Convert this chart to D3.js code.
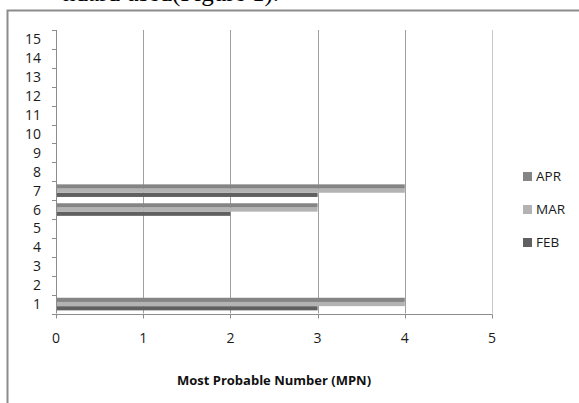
<!DOCTYPE html>
<html>
<head>
<meta charset="utf-8">
<script src="https://cdn.jsdelivr.net/npm/d3@7"></script>
<style>
  body { margin: 0; background: #fff; }
  svg { display: block; }
</style>
</head>
<body>
<svg id="chart"></svg>
<script>
// categories (sample numbers) and monthly MPN values
const categories = ["1","2","3","4","5","6","7","8","9","10","11","12","13","14","15"];
const febValues = [3, 0, 0, 0, 0, 2, 3, 0, 0, 0, 0, 0, 0, 0, 0];
const marValues = [4, 0, 0, 0, 0, 3, 4, 0, 0, 0, 0, 0, 0, 0, 0];
const aprValues = [4, 0, 0, 0, 0, 3, 4, 0, 0, 0, 0, 0, 0, 0, 0];
const seriesNames = ["FEB", "MAR", "APR"];
const xTicks = [0, 1, 2, 3, 4, 5];

const width = 579, height = 403;
const margin = {left: 56, right: 87, top: 30, bottom: 90};
const font = "'Open Sans', 'Noto Sans', sans-serif";

const series = [
  {name: "FEB", values: febValues, color: "#606060"},
  {name: "MAR", values: marValues, color: "#b3b3b3"},
  {name: "APR", values: aprValues, color: "#858585"}
];

const svg = d3.select("#chart")
  .attr("width", width)
  .attr("height", height);

// page text cut off above the chart frame (only descenders show)
svg.append("text")
  .attr("x", 279)
  .attr("y", 0.5)
  .attr("text-anchor", "end")
  .attr("font-family", "'Liberation Serif', serif")
  .attr("font-size", 25)
  .attr("fill", "#000")
  .text("ndard used(Figure 1).");

// chart frame (top and left edges visible)
svg.append("path")
  .attr("d", `M7.5,${height} V10.5 H${width}`)
  .attr("fill", "none")
  .attr("stroke", "#8c8c8c")
  .attr("stroke-width", 2);

const x = d3.scaleLinear()
  .domain([0, 5])
  .range([margin.left, 492]);

const y = d3.scaleBand()
  .domain(categories.slice().reverse())
  .range([margin.top, 313.5]);

// vertical gridlines
svg.append("g")
  .selectAll("line")
  .data(xTicks.slice(1))
  .join("line")
  .attr("x1", d => Math.round(x(d)) + 0.5)
  .attr("x2", d => Math.round(x(d)) + 0.5)
  .attr("y1", margin.top)
  .attr("y2", y.range()[1])
  .attr("stroke", d => d === 5 ? "#c8c8c8" : "#a0a0a0")
  .attr("stroke-width", 1);

// bars: FEB at bottom of each group, APR on top
const barH = y.bandwidth() / 4.5;
const inner = d3.scaleBand()
  .domain(["APR", "MAR", "FEB"])
  .range([(y.bandwidth() - 3 * barH) / 2, (y.bandwidth() + 3 * barH) / 2]);

const groups = svg.append("g")
  .selectAll("g")
  .data(series)
  .join("g")
  .attr("fill", d => d.color);

groups.selectAll("rect")
  .data(d => d.values.map((v, i) => ({cat: categories[i], v: v, name: d.name})))
  .join("rect")
  .filter(d => d.v > 0)
  .attr("x", x(0))
  .attr("y", d => y(d.cat) + inner(d.name))
  .attr("width", d => x(d.v) - x(0))
  .attr("height", inner.bandwidth());

// y axis
const yAxisG = svg.append("g");
yAxisG.append("line")
  .attr("x1", x(0) + 0.5).attr("x2", x(0) + 0.5)
  .attr("y1", margin.top).attr("y2", y.range()[1])
  .attr("stroke", "#8c8c8c");
yAxisG.selectAll("line.tick")
  .data(d3.range(categories.length + 1))
  .join("line")
  .attr("class", "tick")
  .attr("x1", x(0) - 4).attr("x2", x(0))
  .attr("y1", i => Math.round(margin.top + i * y.step()) + 0.5)
  .attr("y2", i => Math.round(margin.top + i * y.step()) + 0.5)
  .attr("stroke", "#8c8c8c");
yAxisG.selectAll("text")
  .data(categories)
  .join("text")
  .attr("x", 41)
  .attr("y", d => y(d) + y.bandwidth() / 2)
  .attr("dy", "0.36em")
  .attr("text-anchor", "end")
  .attr("font-family", font)
  .attr("font-size", 14)
  .attr("fill", "#1a1a1a")
  .text(d => d);

// x axis
const xAxisG = svg.append("g");
const axisY = Math.round(y.range()[1]) + 0.5;
xAxisG.append("line")
  .attr("x1", x(0)).attr("x2", x(5) + 0.5)
  .attr("y1", axisY).attr("y2", axisY)
  .attr("stroke", "#8c8c8c");
xAxisG.selectAll("line.tick")
  .data(xTicks)
  .join("line")
  .attr("class", "tick")
  .attr("x1", d => Math.round(x(d)) + 0.5)
  .attr("x2", d => Math.round(x(d)) + 0.5)
  .attr("y1", axisY).attr("y2", axisY + 4)
  .attr("stroke", "#8c8c8c");
xAxisG.selectAll("text")
  .data(xTicks)
  .join("text")
  .attr("x", d => x(d))
  .attr("y", 343)
  .attr("text-anchor", "middle")
  .attr("font-family", font)
  .attr("font-size", 14)
  .attr("fill", "#1a1a1a")
  .text(d => d);

svg.append("text")
  .attr("x", 274)
  .attr("y", 385)
  .attr("text-anchor", "middle")
  .attr("font-family", font)
  .attr("font-size", 13)
  .attr("font-weight", "bold")
  .attr("fill", "#111")
  .text("Most Probable Number (MPN)");

// legend
const legendNames = ["APR", "MAR", "FEB"];
const legend = svg.append("g")
  .selectAll("g")
  .data(legendNames)
  .join("g")
  .attr("transform", (d, i) => `translate(523, ${172 + i * 33})`);
legend.append("rect")
  .attr("width", 9)
  .attr("height", 9)
  .attr("fill", d => series.find(s => s.name === d).color);
legend.append("text")
  .attr("x", 13)
  .attr("y", 4.5)
  .attr("dy", "0.36em")
  .attr("font-family", font)
  .attr("font-size", 13.5)
  .attr("fill", "#1a1a1a")
  .text(d => d);
</script>
</body>
</html>
